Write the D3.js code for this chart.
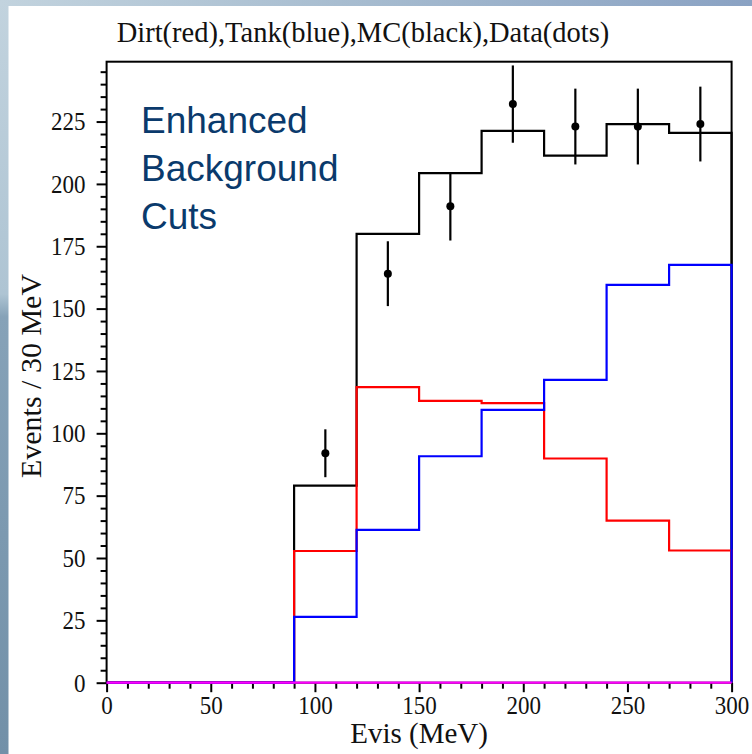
<!DOCTYPE html>
<html>
<head>
<meta charset="utf-8">
<script src="https://cdn.jsdelivr.net/npm/d3@7/dist/d3.min.js"></script>
<style>
  body { margin: 0; background: #fff; }
  svg { display: block; }
  .serif { font-family: "Liberation Serif", "Times New Roman", serif; fill: #111; }
</style>
</head>
<body>
<div id="chart"></div>
<script>
// histogram bin edges (MeV), 30 MeV wide
var binEdges = [0, 30, 60, 90, 120, 150, 180, 210, 240, 270, 300];

// events per bin for each sample
var mcCounts   = [0, 0, 0, 79.0, 180.0, 204.3, 221.3, 211.3, 224.0, 220.5];
var dirtCounts = [0, 0, 0, 52.8, 118.5, 113.0, 112.1, 89.9, 65.0, 53.0];
var tankCounts = [0, 0, 0, 26.4, 61.3, 90.8, 109.4, 121.4, 159.5, 167.5];

// data points (bin centres) with their error bars
var dataEvis   = [105, 135, 165, 195, 225, 255, 285];
var dataCounts = [92, 164, 191, 232, 223, 223, 224];
var dataErrors = [9.6, 13.0, 13.7, 15.5, 15.2, 15.2, 15.0];

var yMajorTicks = [0, 25, 50, 75, 100, 125, 150, 175, 200, 225];
var xMajorTicks = [0, 50, 100, 150, 200, 250, 300];

var W = 752, H = 754;
var margin = {top: 61.7, right: 20.4, bottom: 71.3, left: 106.6},
    width = W - margin.left - margin.right,
    height = H - margin.top - margin.bottom;

var svg = d3.select("#chart").append("svg")
    .attr("width", W)
    .attr("height", H);

// slide background strips (top and left)
var defs = svg.append("defs");
var gTop = defs.append("linearGradient").attr("id", "topBand")
    .attr("x1", 0).attr("x2", 1).attr("y1", 0).attr("y2", 0);
gTop.append("stop").attr("offset", 0).attr("stop-color", "#c2d3de");
gTop.append("stop").attr("offset", 0.45).attr("stop-color", "#a8bdd0");
gTop.append("stop").attr("offset", 1).attr("stop-color", "#8aa2c3");
var gLeft = defs.append("linearGradient").attr("id", "leftBand")
    .attr("x1", 0).attr("x2", 0).attr("y1", 0).attr("y2", 1);
gLeft.append("stop").attr("offset", 0).attr("stop-color", "#c2d3de");
gLeft.append("stop").attr("offset", 0.39).attr("stop-color", "#aec4d3");
gLeft.append("stop").attr("offset", 0.42).attr("stop-color", "#86a2b8");
gLeft.append("stop").attr("offset", 1).attr("stop-color", "#7290a8");

svg.append("rect").attr("x", 0).attr("y", 0).attr("width", 8.5).attr("height", H)
    .attr("fill", "url(#leftBand)");
svg.append("rect").attr("x", 0).attr("y", 0).attr("width", W).attr("height", 6)
    .attr("fill", "url(#topBand)");

var x = d3.scaleLinear().domain([0, 300]).range([0, width]);
var y = d3.scaleLinear().domain([0, 249]).range([height, 0]);

var g = svg.append("g")
    .attr("transform", "translate(" + margin.left + "," + margin.top + ")");

// title
svg.append("text")
    .attr("class", "serif")
    .attr("x", 363).attr("y", 42)
    .attr("text-anchor", "middle")
    .style("font-size", "28.5px")
    .text("Dirt(red),Tank(blue),MC(black),Data(dots)");

// Y axis: major + minor ticks
var yMinor = d3.range(0, 250, 5).filter(function (v) { return v % 25 !== 0; });
g.append("g")
    .call(d3.axisLeft(y).tickValues(yMinor).tickSize(6).tickFormat(""))
    .call(function (s) { s.select(".domain").remove(); })
    .selectAll("line").attr("stroke", "#000").attr("stroke-width", 2);
var yAx = g.append("g")
    .call(d3.axisLeft(y).tickValues(yMajorTicks).tickSize(10).tickPadding(11));
yAx.select(".domain").remove();
yAx.selectAll("line").attr("stroke", "#000").attr("stroke-width", 2);
yAx.selectAll("text").attr("class", "serif").style("font-size", "23px")
    .attr("fill", "#111").attr("dy", "0.32em")
    .attr("transform", "scale(1,1.13)");

// X axis: major + minor ticks
var xMinor = d3.range(0, 301, 10).filter(function (v) { return v % 50 !== 0; });
g.append("g")
    .attr("transform", "translate(0," + height + ")")
    .call(d3.axisBottom(x).tickValues(xMinor).tickSize(6).tickFormat(""))
    .call(function (s) { s.select(".domain").remove(); })
    .selectAll("line").attr("stroke", "#000").attr("stroke-width", 2);
var xAx = g.append("g")
    .attr("transform", "translate(0," + height + ")")
    .call(d3.axisBottom(x).tickValues(xMajorTicks).tickSize(9.5).tickPadding(1.5));
xAx.select(".domain").remove();
xAx.selectAll("line").attr("stroke", "#000").attr("stroke-width", 2);
xAx.selectAll("text").attr("class", "serif").style("font-size", "23px").attr("fill", "#111")
    .attr("transform", "scale(1,1.13)");

// axis titles
svg.append("text")
    .attr("class", "serif")
    .attr("transform", "translate(41,376) rotate(-90)")
    .attr("text-anchor", "middle")
    .style("font-size", "30px")
    .text("Events / 30 MeV");
svg.append("text")
    .attr("class", "serif")
    .attr("x", margin.left + x(150)).attr("y", 743)
    .attr("text-anchor", "middle")
    .style("font-size", "29px")
    .text("Evis (MeV)");

// frame
g.append("rect")
    .attr("x", 0).attr("y", 0)
    .attr("width", width).attr("height", height)
    .attr("fill", "none").attr("stroke", "#000").attr("stroke-width", 2);

// step outline of a histogram, closed down to zero at both ends
function histPoints(counts) {
    var pts = [[binEdges[0], 0]];
    counts.forEach(function (c, i) { pts.push([binEdges[i], c]); });
    pts.push([binEdges[binEdges.length - 1], counts[counts.length - 1]]);
    pts.push([binEdges[binEdges.length - 1], 0]);
    return pts;
}
var stepLine = d3.line()
    .x(function (d) { return x(d[0]); })
    .y(function (d) { return y(d[1]); })
    .curve(d3.curveStepAfter);

[[mcCounts, "#000"], [dirtCounts, "#ff0000"], [tankCounts, "#0000ff"]].forEach(function (h) {
    g.append("path")
        .datum(histPoints(h[0]))
        .attr("fill", "none")
        .attr("stroke", h[1])
        .attr("stroke-width", 2.2)
        .attr("d", stepLine);
});

// zero line where the outlines overlap
g.append("path")
    .datum([[0, 0], [300, 0]])
    .attr("fill", "none")
    .attr("stroke", "#ff00ff")
    .attr("stroke-width", 2.2)
    .attr("d", d3.line().x(function (d) { return x(d[0]); }).y(function (d) { return y(d[1]); }));

// data points with error bars
var pts = g.selectAll(".pt")
    .data(dataEvis.map(function (e, i) { return {e: e, n: dataCounts[i], err: dataErrors[i]}; }))
    .enter().append("g").attr("class", "pt");
pts.append("line")
    .attr("x1", function (d) { return x(d.e); })
    .attr("x2", function (d) { return x(d.e); })
    .attr("y1", function (d) { return y(d.n - d.err); })
    .attr("y2", function (d) { return y(d.n + d.err); })
    .attr("stroke", "#000").attr("stroke-width", 2.2);
pts.append("circle")
    .attr("cx", function (d) { return x(d.e); })
    .attr("cy", function (d) { return y(d.n); })
    .attr("r", 4)
    .attr("fill", "#000");

// annotation
var note = svg.append("text")
    .style("font-family", "'Liberation Sans', Arial, sans-serif")
    .style("font-size", "37px")
    .attr("fill", "#0a3a6c");
["Enhanced", "Background", "Cuts"].forEach(function (t, i) {
    note.append("tspan").attr("x", 141).attr("y", 133 + i * 48).text(t);
});
</script>
</body>
</html>
